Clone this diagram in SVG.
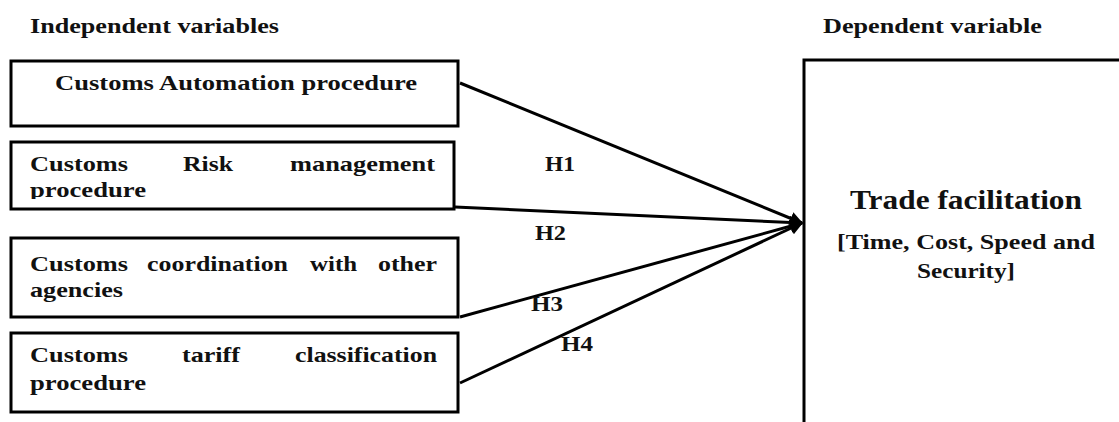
<svg xmlns="http://www.w3.org/2000/svg" width="1119" height="422" viewBox="0 0 1119 422">
<style>
text{font-family:"Liberation Serif","Times New Roman",serif;font-weight:bold;fill:#111;font-size:22px}
.t{font-size:21px}
.h{font-size:21px}
.big{font-size:28px}
.box{fill:#fff;stroke:#000;stroke-width:3}
.con{stroke:#000;stroke-width:3;fill:none}
</style>
<defs>
<marker id="ah" viewBox="0 0 10 10" refX="9" refY="5" markerWidth="4.5" markerHeight="4.5" orient="auto" markerUnits="strokeWidth">
<path d="M0,0 L10,5 L0,10 z" fill="#000"/>
</marker>
<clipPath id="c2"><rect x="10" y="141" width="446" height="58"/></clipPath>
</defs>
<rect width="1119" height="422" fill="#fff"/>
<text class="t" x="30" y="33" textLength="249" lengthAdjust="spacingAndGlyphs">Independent variables</text>
<text class="t" x="823" y="33" textLength="219" lengthAdjust="spacingAndGlyphs">Dependent variable</text>

<g id="n1">
<rect class="box" x="11" y="61" width="447" height="65"/>
<text x="55" y="90" textLength="362" lengthAdjust="spacingAndGlyphs">Customs Automation procedure</text>
</g>
<g id="n2">
<rect class="box" x="11" y="142" width="443" height="67"/>
<g clip-path="url(#c2)">
<text x="30" y="171" textLength="98" lengthAdjust="spacingAndGlyphs">Customs</text>
<text x="183" y="171" textLength="50" lengthAdjust="spacingAndGlyphs">Risk</text>
<text x="290" y="171" textLength="145" lengthAdjust="spacingAndGlyphs">management</text>
<text x="30" y="197" textLength="116" lengthAdjust="spacingAndGlyphs">procedure</text>
</g>
</g>
<g id="n3">
<rect class="box" x="11" y="238" width="447" height="79"/>
<text x="30" y="271" textLength="98" lengthAdjust="spacingAndGlyphs">Customs</text>
<text x="147" y="271" textLength="141" lengthAdjust="spacingAndGlyphs">coordination</text>
<text x="310" y="271" textLength="47" lengthAdjust="spacingAndGlyphs">with</text>
<text x="378" y="271" textLength="59" lengthAdjust="spacingAndGlyphs">other</text>
<text x="30" y="297" textLength="93" lengthAdjust="spacingAndGlyphs">agencies</text>
</g>
<g id="n4">
<rect class="box" x="11" y="333" width="447" height="79"/>
<text x="30" y="362" textLength="98" lengthAdjust="spacingAndGlyphs">Customs</text>
<text x="182" y="362" textLength="58" lengthAdjust="spacingAndGlyphs">tariff</text>
<text x="295" y="362" textLength="142" lengthAdjust="spacingAndGlyphs">classification</text>
<text x="30" y="390" textLength="116" lengthAdjust="spacingAndGlyphs">procedure</text>
</g>
<g id="n5">
<rect class="box" x="804" y="60" width="330" height="380"/>
<text class="big" x="850" y="209" textLength="232" lengthAdjust="spacingAndGlyphs">Trade facilitation</text>
<text x="837" y="249" textLength="258" lengthAdjust="spacingAndGlyphs">[Time, Cost, Speed and</text>
<text x="917" y="278" textLength="98" lengthAdjust="spacingAndGlyphs">Security]</text>
</g>

<g id="connectors">
<line class="con" x1="460" y1="83" x2="802" y2="223" marker-end="url(#ah)"/>
<line class="con" x1="455" y1="207" x2="802" y2="223" marker-end="url(#ah)"/>
<line class="con" x1="460" y1="317" x2="802" y2="223" marker-end="url(#ah)"/>
<line class="con" x1="460" y1="383" x2="802" y2="223" marker-end="url(#ah)"/>
<text class="h" x="545" y="171" textLength="30" lengthAdjust="spacingAndGlyphs">H1</text>
<text class="h" x="535" y="240" textLength="31" lengthAdjust="spacingAndGlyphs">H2</text>
<text class="h" x="531" y="311" textLength="32" lengthAdjust="spacingAndGlyphs">H3</text>
<text class="h" x="561" y="351" textLength="32" lengthAdjust="spacingAndGlyphs">H4</text>
</g>
</svg>
